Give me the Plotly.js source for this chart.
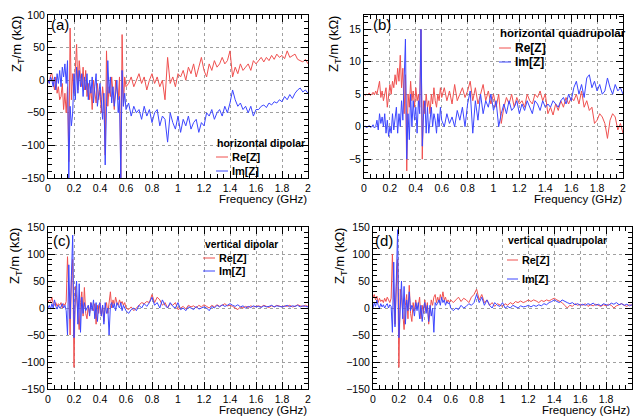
<!DOCTYPE html>
<html>
<head>
<meta charset="utf-8">
<script src="https://cdn.plot.ly/plotly-3.0.1.min.js"></script>
<style>html,body{margin:0;padding:0;background:#fff;}#chart{width:633px;height:417px;}</style>
</head>
<body>
<div id="chart"></div>
<script>
// Frequency grid (GHz)
var freq = [0,0.01,0.02,0.03,0.04,0.05,0.06,0.07,0.08,0.09,
0.10,0.11,0.12,0.13,0.14,0.15,0.16,0.17,0.18,0.19,
0.20,0.21,0.22,0.23,0.24,0.25,0.26,0.27,0.28,0.29,
0.30,0.31,0.32,0.33,0.34,0.35,0.36,0.37,0.38,0.39,
0.40,0.41,0.42,0.43,0.44,0.45,0.46,0.47,0.48,0.49,
0.50,0.51,0.52,0.53,0.54,0.55,0.56,0.57,0.58,0.59,
0.60,
0.62,0.64,0.66,0.68,0.70,0.72,0.74,0.76,0.78,0.80,
0.82,0.84,0.86,0.88,0.90,0.92,0.94,0.96,0.98,1.00,
1.02,1.04,1.06,1.08,1.10,1.12,1.14,1.16,1.18,1.20,
1.22,1.24,1.26,1.28,1.30,1.32,1.34,1.36,1.38,1.40,
1.42,1.44,1.46,1.48,1.50,1.52,1.54,1.56,1.58,1.60,
1.62,1.64,1.66,1.68,1.70,1.72,1.74,1.76,1.78,1.80,
1.82,1.84,1.86,1.88,1.90,1.92,1.94,1.96,1.98,2.00];

// (a) horizontal dipolar
var aRe = [0,-5,8,10,-3,-15,5,-20,-10,-30,
-25,-5,-45,-20,-50,-10,-125,80,-30,10,
-20,25,55,-15,30,5,-10,20,-15,15,
-25,-5,-30,-10,-45,0,-20,-35,-5,-30,
-15,-50,-10,-30,-115,45,-40,-10,-25,5,
-20,-45,0,-15,-30,5,-150,70,-40,5,
-10,
-5,5,-10,0,10,-5,5,-15,0,10,
-5,5,-10,0,-30,35,-5,5,-10,10,
5,15,0,20,10,25,5,20,35,15,
5,25,15,30,20,25,35,25,30,45,
5,20,10,25,15,20,25,15,30,25,
30,35,28,35,30,38,32,40,35,38,
33,45,35,38,40,32,30,28,32,25];
var aIm = [0,-5,5,0,-10,5,-15,10,-5,15,
-10,20,5,25,-5,30,-150,-40,-70,-50,
10,-30,20,-20,15,-10,10,-25,5,-15,
10,-30,0,-20,5,-35,-10,10,-40,-20,
-5,-30,-60,-20,-130,-40,30,-20,5,-35,
-10,-40,-20,0,-50,-25,-150,15,-40,-20,
-45,
-35,-55,-40,-50,-45,-60,-40,-55,-45,-65,
-50,-45,-70,-55,-60,-95,-50,-65,-75,-55,
-80,-60,-70,-55,-75,-65,-60,-80,-65,-70,
-50,-55,-45,-60,-50,-45,-55,-40,-50,-35,
-15,-30,-40,-35,-45,-40,-50,-40,-55,-45,
-45,-40,-38,-42,-35,-38,-33,-35,-30,-33,
-25,-30,-22,-28,-20,-15,-12,-18,-15,-20];

// (b) horizontal quadrupolar
var bRe = [5,4.8,5,4.9,5.2,4.8,5,5.3,4.9,5.5,
5,6,7,4.5,5.5,4,5,6,3,5,
6.5,5,7,6,8,6.5,9,7,11,6,
9,2,8,-6.8,5,3,7,4,5.5,3,
6,4,5,3,15,-5,4,2,5,3,
4,2,5,3.5,6,4,3,5,4,6,
4.5,
6,4,5.5,3.5,6.5,4,5,6,4.5,5.5,
7,4,6,3.5,5,6.5,4,5.5,3.5,5,
3,5,0.5,3,4.5,3.5,5,3,4.5,3.5,
4,3,5,4,3.5,5,4.5,5.5,4,5,
2,3,1.8,3.5,2.5,4,3,4.5,3.5,4.5,
4,5,3.5,5.5,3,4,2.5,3,0.5,1,
2,1.5,0.5,-1.8,1,2,1.5,-0.5,0.5,-1];
var bIm = [0,0.1,-0.2,0,0.2,-0.1,0,0.3,-0.2,0,
1,-0.5,2,0.5,1.5,0,2,-1,1,-1.5,
0,-1,2,-0.5,1,3,-1,2,0,4,
1,6,13.5,-5,2,-2,5,0,4,1,
3,-1,4,2,15,-3,2,4,-1,3,
-1,1,3,0,2,1,-1,2,0,3,
1,
0,2,0.5,1.5,0,2.5,1,3,0,3.5,
5.5,-1,4,1,5,2,4,3,5,2.5,
4,0,2,3.5,2,4,2.5,3,4,2,
3.5,2.5,4,3,2,4,3.5,2.5,4,3,
3.5,3,4,3.5,3,4,4.5,3.5,5,4,
6,7,5,6.5,4.5,7.5,8,6,7,5.5,
6.5,5,5.5,7.5,6,5,6.5,5.5,6,5];

// (c) vertical dipolar
var cRe = [10,15,12,20,8,5,10,3,8,5,
10,0,8,5,12,95,30,-50,50,90,
-110,40,20,-20,-40,10,30,-15,38,-10,
-20,5,-10,10,0,-5,8,-30,5,-10,
10,-15,5,-25,0,10,-10,15,30,0,
15,5,20,10,5,15,8,12,5,10,
0,
-3,2,-5,0,5,10,8,12,10,25,
10,20,15,5,10,0,8,5,10,-3,
0,3,-2,5,2,4,0,5,2,6,
3,0,5,2,6,3,5,8,4,5,
3,0,-3,2,0,3,1,4,2,3,
4,2,5,3,1,4,2,5,3,2,
4,3,5,2,3,6,4,3,5,3];
var cIm = [0,5,-2,8,0,15,3,-2,5,0,
2,8,0,5,-5,-50,80,-20,60,135,
-55,20,50,-30,45,-45,20,-10,10,-5,
0,5,-15,10,-5,15,-20,10,-25,5,
10,-15,5,-30,10,-10,0,-50,5,10,
0,8,-5,10,5,0,10,-5,5,0,
-5,
-10,-3,0,-5,5,0,8,3,10,20,
5,10,0,15,5,0,10,3,0,10,
-3,0,-5,2,0,-3,3,-2,0,2,
0,-5,3,0,5,2,6,3,5,8,
5,3,6,2,4,0,3,1,4,2,
3,1,4,2,3,5,2,4,3,2,
3,5,2,4,3,5,2,4,3,2];

// (d) vertical quadrupolar
var dRe = [20,25,15,22,10,18,12,15,10,18,
12,20,15,10,18,100,20,-30,40,90,
-110,35,20,-15,-40,5,25,-20,42,-10,
-25,10,-5,15,0,5,20,-20,5,-10,
15,-5,10,-30,0,15,5,20,25,10,
20,10,25,15,30,15,20,10,15,10,
15,
10,15,20,12,18,15,10,20,25,35,
15,25,10,15,5,10,3,8,5,3,
8,5,10,7,12,10,13,10,12,15,
12,15,13,10,14,12,15,13,16,18,
15,12,10,5,0,5,3,8,5,7,
5,8,3,6,4,7,5,3,6,4,
7,5,0,4,6,8,5,3,6,5];
var dIm = [0,10,3,15,5,0,8,2,6,0,
5,8,0,6,3,-45,85,-35,50,145,
-55,15,50,-20,40,-30,15,-5,30,-5,
5,0,-15,10,-5,10,-20,5,-25,0,
10,-10,5,-25,5,-15,0,-45,10,5,
10,15,5,20,10,15,5,12,8,10,
0,
-5,0,-3,5,0,3,8,5,10,25,
10,20,5,15,5,0,10,5,3,10,
0,3,0,5,2,0,4,2,3,5,
2,5,3,6,4,8,6,10,12,15,
12,10,15,12,10,8,10,6,8,5,
7,5,8,6,9,5,7,4,8,6,
5,9,7,10,6,8,5,7,4,6];

var panelNames = ['horizontal dipolar','horizontal quadrupolar','vertical dipolar','vertical quadrupolar'];
var panelLabels = ['(a)','(b)','(c)','(d)'];
var seriesNames = ['Re[Z]','Im[Z]'];

var W = 633, H = 417;
var RED = '#f0504f', BLUE = '#3c46ff';
var FONT = 'Liberation Sans, Arial, Helvetica, sans-serif';

function px(x){ return x / W; }
function py(y){ return 1 - y / H; }

var data = [];
var series = [[aRe,aIm],[bRe,bIm],[cRe,cIm],[dRe,dIm]];
for (var p = 0; p < 4; p++) {
  var xa = p === 0 ? 'x' : 'x' + (p+1);
  var ya = p === 0 ? 'y' : 'y' + (p+1);
  data.push({x: freq, y: series[p][0], type: 'scatter', mode: 'lines', name: seriesNames[0],
    xaxis: xa, yaxis: ya, line: {color: RED, width: 1}});
  data.push({x: freq, y: series[p][1], type: 'scatter', mode: 'lines', name: seriesNames[1],
    xaxis: xa, yaxis: ya, line: {color: BLUE, width: 1}});
}

function xaxis(domain, anchor) {
  return {domain: domain, anchor: anchor, range: [0, 2], dtick: 0.2, tick0: 0,
    showline: true, linecolor: '#000', linewidth: 1, mirror: 'allticks',
    ticks: 'inside', ticklen: 7, tickcolor: '#000', tickwidth: 1,
    minor: {dtick: 0.05, ticks: 'inside', ticklen: 4, tickcolor: '#000', showgrid: false},
    showgrid: true, gridcolor: '#a0a0a0', griddash: 'dot', gridwidth: 1,
    zeroline: false, tickfont: {family: FONT, size: 10.5, color: '#000'}, fixedrange: true};
}
function yaxis(domain, anchor, range, dtick, mdtick) {
  return {domain: domain, anchor: anchor, range: range, dtick: dtick, tick0: 0,
    showline: true, linecolor: '#000', linewidth: 1, mirror: 'allticks',
    ticks: 'inside', ticklen: 7, tickcolor: '#000', tickwidth: 1,
    minor: {dtick: mdtick, ticks: 'inside', ticklen: 4, tickcolor: '#000', showgrid: false},
    showgrid: true, gridcolor: '#a0a0a0', griddash: 'dot', gridwidth: 1,
    zeroline: false, tickfont: {family: FONT, size: 10.5, color: '#000'}, fixedrange: true};
}

var topDom = [py(178), py(15)];
var botDom = [py(389), py(227)];

var layout = {
  width: W, height: H, margin: {l: 0, r: 0, t: 0, b: 0},
  paper_bgcolor: '#fff', plot_bgcolor: '#fff', showlegend: false,
  font: {family: FONT, color: '#000'},
  xaxis: xaxis([px(48), px(308)], 'y'),
  yaxis: yaxis(topDom, 'x', [-150, 100], 50, 10),
  xaxis2: xaxis([px(364), px(623)], 'y2'),
  yaxis2: yaxis(topDom, 'x2', [-7.9, 17.2], 5, 1),
  xaxis3: xaxis([px(48), px(308)], 'y3'),
  yaxis3: yaxis(botDom, 'x3', [-150, 150], 50, 10),
  xaxis4: xaxis([px(373), px(632)], 'y4'),
  yaxis4: yaxis(botDom, 'x4', [-150, 150], 50, 10),
  annotations: [], shapes: []
};

// Legend boxes (ROOT style): header, then two entries with short line samples
// [headerX, headerY, lineX0, lineX1, textX, reY, imY, fontSize]
var leg = [
  [215, 143, 216, 228, 230, 157, 171, 10.5],
  [498, 33, 499, 511, 513, 48, 62, 11.5],
  [203, 244, 203, 215, 217, 258, 271, 10.3],
  [506, 241, 507, 518, 520, 260, 279, 10.3]
];
var colors = [RED, BLUE];
for (var i = 0; i < 4; i++) {
  var L = leg[i];
  layout.annotations.push({text: '<b>' + panelNames[i] + '</b>', xref: 'paper', yref: 'paper',
    x: px(L[0]), y: py(L[1]), xanchor: 'left', yanchor: 'middle', showarrow: false,
    font: {family: FONT, size: L[7], color: '#000'}});
  var ys = [L[5], L[6]];
  for (var k = 0; k < 2; k++) {
    layout.shapes.push({type: 'line', xref: 'paper', yref: 'paper', x0: px(L[2]), x1: px(L[3]),
      y0: py(ys[k]), y1: py(ys[k]), line: {color: colors[k], width: 1}});
    layout.annotations.push({text: '<b>' + seriesNames[k] + '</b>', xref: 'paper', yref: 'paper',
      x: px(L[4]), y: py(ys[k]), xanchor: 'left', yanchor: 'middle', showarrow: false,
      font: {family: FONT, size: L[7] + 0.5, color: '#000'}});
  }
}

// panel labels
var lab = [[49, 25], [371, 25], [51, 240], [373, 240]];
for (var i = 0; i < 4; i++) {
  layout.annotations.push({text: panelLabels[i], xref: 'paper', yref: 'paper', x: px(lab[i][0]), y: py(lab[i][1]),
    xanchor: 'left', yanchor: 'middle', showarrow: false, font: {family: FONT, size: 15, color: '#000'}});
}
// x titles
var xt = [[309, 199], [624, 199], [309, 410], [632, 410]];
for (var i = 0; i < 4; i++) {
  layout.annotations.push({text: 'Frequency (GHz)', xref: 'paper', yref: 'paper', x: px(xt[i][0]), y: py(xt[i][1]),
    xanchor: 'right', yanchor: 'middle', showarrow: false, font: {family: FONT, size: 11.5, color: '#000'}});
}
// y titles
var yt = [[17, 14], [334, 14], [16, 226], [341, 226]];
for (var i = 0; i < 4; i++) {
  layout.annotations.push({text: 'Z<sub>T</sub>/m (kΩ)', xref: 'paper', yref: 'paper', x: px(yt[i][0]), y: py(yt[i][1]),
    xanchor: 'center', yanchor: 'top', textangle: -90, showarrow: false, font: {family: FONT, size: 13, color: '#000'}});
}

Plotly.newPlot('chart', data, layout, {displayModeBar: false, staticPlot: true});
</script>
</body>
</html>
